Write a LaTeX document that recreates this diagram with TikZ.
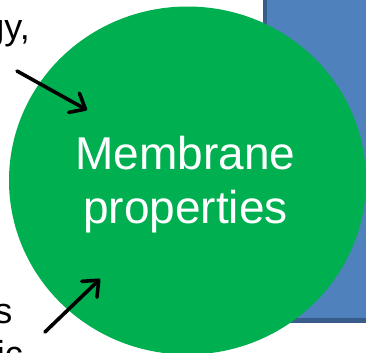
\documentclass[tikz,border=0pt]{standalone}
\usepackage{fontspec}
\setmainfont{Liberation Sans}
\usetikzlibrary{shapes.geometric,arrows.meta}
\definecolor{pgreen}{RGB}{0,176,80}
\definecolor{pblue}{RGB}{79,129,189}
\definecolor{pblueedge}{RGB}{56,93,138}
\tikzset{
  panelbox/.style={rectangle, draw=pblueedge, fill=pblue, line width=4.5bp, inner sep=0pt},
  bubble/.style={ellipse, fill=pgreen, inner sep=0pt},
  bubbletext/.style={text=white, inner sep=0pt, font=\fontsize{46bp}{53bp}\selectfont},
  sidetext/.style={text=black, inner sep=0pt, font=\fontsize{36bp}{42bp}\selectfont},
  pointer/.style={line width=3.6bp, line cap=round, -{Straight Barb[length=13bp,width=22bp,round]}}
}
\begin{document}
\begin{tikzpicture}[x=1bp,y=-1bp]
\useasboundingbox (0,0) rectangle (366,353);
\clip (0,0) rectangle (366,353);
\fill[white] (0,0) rectangle (366,353);
\node (panel) [panelbox, minimum width=160bp, minimum height=350bp, anchor=south west] at (262.5,322.5) {};
\node (mp) [bubble, minimum width=357bp, minimum height=348bp] at (187.5,180.5) {};
\node (t1) [bubbletext, anchor=base] at (185.5,169) {Membrane};
\node (t2) [bubbletext, anchor=base] at (185.5,223) {properties};
\node (s1) [sidetext, anchor=base east] at (30,39) {gy,};
\node (s2) [sidetext, anchor=base east] at (12.5,323) {s};
\node (s3) [sidetext, anchor=base east] at (23,366) {ic};
\coordinate (a1s) at (17,71);
\coordinate (a1e) at (87,110);
\coordinate (a2s) at (45,332);
\coordinate (a2e) at (100,279);
\draw[pointer] (a1s) -- (a1e);
\draw[pointer] (a2s) -- (a2e);
\end{tikzpicture}
\end{document}
